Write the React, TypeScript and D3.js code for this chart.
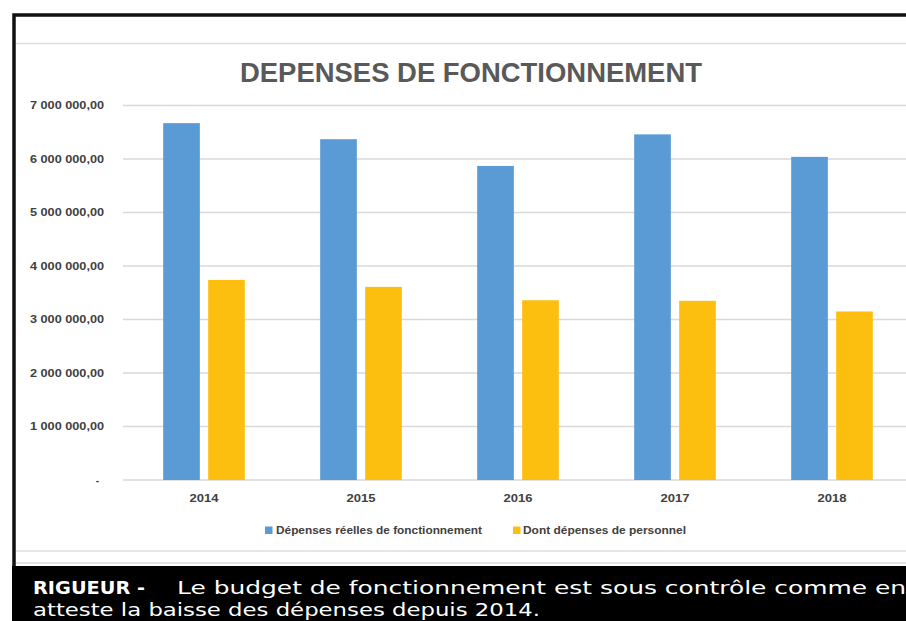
import React, { useEffect, useRef } from 'react';
import * as d3 from 'd3';

const years = ['2014', '2015', '2016', '2017', '2018'];
const seriesNames = ['Dépenses réelles de fonctionnement', 'Dont dépenses de personnel'];
const depensesReelles = [6670000, 6370000, 5870000, 6460000, 6040000];
const depensesPersonnel = [3740000, 3610000, 3360000, 3350000, 3150000];
const yTicks = [0, 1000000, 2000000, 3000000, 4000000, 5000000, 6000000, 7000000];
const colors = ['#5b9bd5', '#fdbf0f'];

const W = 906;
const H = 621;

function App() {
    const ref = useRef<SVGSVGElement>(null);

    useEffect(() => {
        const svg = d3.select(ref.current);
        svg.selectAll('*').remove();

        const locale = d3.formatLocale({ decimal: ',', thousands: ' ', grouping: [3], currency: ['', ''] });
        const fmt = locale.format(',.2f');

        // frame
        svg.append('rect').attr('width', W).attr('height', H).attr('fill', '#fff');
        svg.append('line').attr('x1', 16).attr('x2', W).attr('y1', 43.5).attr('y2', 43.5)
            .attr('stroke', '#dcdcdc').attr('stroke-width', 1.5);
        svg.append('line').attr('x1', 16).attr('x2', W).attr('y1', 551).attr('y2', 551)
            .attr('stroke', '#dcdcdc').attr('stroke-width', 1.5);
        svg.append('line').attr('x1', 16).attr('x2', W).attr('y1', 563).attr('y2', 563)
            .attr('stroke', '#c8c8c8').attr('stroke-width', 1);

        svg.append('path')
            .attr('d', `M14,568 L14,15 L${W},15`)
            .attr('fill', 'none').attr('stroke', '#111').attr('stroke-width', 3.5);

        // title
        svg.append('text')
            .attr('x', 471).attr('y', 82)
            .attr('text-anchor', 'middle')
            .attr('font-family', 'Liberation Sans, Arial, sans-serif')
            .attr('font-weight', 'bold')
            .attr('font-size', 27)
            .attr('fill', '#595959')
            .attr('textLength', 462)
            .attr('lengthAdjust', 'spacingAndGlyphs')
            .text('DEPENSES DE FONCTIONNEMENT');

        const y = d3.scaleLinear().domain([0, 7000000]).range([480, 105.5]);
        const x0 = d3.scaleBand().domain(years).range([125.5, 910.5]).paddingInner(0.48).paddingOuter(0.24);
        const x1 = d3.scaleBand().domain(seriesNames).range([0, x0.bandwidth()]).paddingInner(0.185);

        // gridlines
        svg.append('g').selectAll('line')
            .data(yTicks)
            .enter().append('line')
            .attr('x1', 123).attr('x2', W)
            .attr('y1', d => y(d)).attr('y2', d => y(d))
            .attr('stroke', '#d9d9d9')
            .attr('stroke-width', 1.6);

        // y labels
        svg.append('g').selectAll('text')
            .data(yTicks)
            .enter().append('text')
            .attr('x', d => d === 0 ? 99 : 104)
            .attr('y', d => y(d) + 3.5)
            .attr('text-anchor', 'end')
            .attr('font-family', 'Liberation Sans, Arial, sans-serif')
            .attr('font-weight', 'bold')
            .attr('font-size', 10)
            .attr('fill', '#404040')
            .attr('textLength', d => d === 0 ? null : 74)
            .attr('lengthAdjust', 'spacingAndGlyphs')
            .text(d => d === 0 ? '-' : fmt(d));

        // bars
        const rows = years.map((yr, i) => ({ year: yr, values: [depensesReelles[i], depensesPersonnel[i]] }));
        const group = svg.append('g').selectAll('g')
            .data(rows)
            .enter().append('g')
            .attr('transform', d => `translate(${x0(d.year)},0)`);

        group.selectAll('rect')
            .data(d => d.values.map((v, k) => ({ key: seriesNames[k], value: v, k })))
            .enter().append('rect')
            .attr('x', d => x1(d.key)!)
            .attr('width', x1.bandwidth())
            .attr('y', d => y(d.value))
            .attr('height', d => y(0) - y(d.value))
            .attr('fill', d => colors[d.k]);

        // x labels
        svg.append('g').selectAll('text')
            .data(years)
            .enter().append('text')
            .attr('x', d => x0(d)! + x0.bandwidth() / 2)
            .attr('y', 502)
            .attr('text-anchor', 'middle')
            .attr('font-family', 'Liberation Sans, Arial, sans-serif')
            .attr('font-weight', 'bold')
            .attr('font-size', 11)
            .attr('fill', '#404040')
            .attr('textLength', 29)
            .attr('lengthAdjust', 'spacingAndGlyphs')
            .text(d => d);

        // legend
        const legendItems = [
            { name: seriesNames[0], sx: 265, tx: 276, tw: 206 },
            { name: seriesNames[1], sx: 513, tx: 523, tw: 163 },
        ];
        const lg = svg.append('g');
        legendItems.forEach((it, i) => {
            lg.append('rect').attr('x', it.sx).attr('y', 526.5).attr('width', 7.5).attr('height', 7.5).attr('fill', colors[i]);
            lg.append('text')
                .attr('x', it.tx).attr('y', 534)
                .attr('font-family', 'Liberation Sans, Arial, sans-serif')
                .attr('font-weight', 'bold')
                .attr('font-size', 10)
                .attr('fill', '#404040')
                .attr('textLength', it.tw)
                .attr('lengthAdjust', 'spacingAndGlyphs')
                .text(it.name);
        });

        // caption block
        svg.append('rect').attr('x', 12).attr('y', 566).attr('width', W - 12).attr('height', H - 566).attr('fill', '#000');
        const cap = svg.append('g')
            .attr('font-family', 'DejaVu Sans, sans-serif')
            .attr('font-size', 18)
            .attr('fill', '#fff');
        cap.append('text').attr('x', 33).attr('y', 594).attr('font-weight', 'bold')
            .attr('textLength', 112).attr('lengthAdjust', 'spacingAndGlyphs').text('RIGUEUR -');
        cap.append('text').attr('x', 177).attr('y', 594)
            .attr('textLength', 729).attr('lengthAdjust', 'spacingAndGlyphs')
            .text('Le budget de fonctionnement est sous contrôle comme en');
        cap.append('text').attr('x', 33).attr('y', 616)
            .attr('textLength', 507).attr('lengthAdjust', 'spacingAndGlyphs')
            .text('atteste la baisse des dépenses depuis 2014.');
    }, []);

    return (
        <svg ref={ref} width={W} height={H}
            style={{ position: 'absolute', left: 0, top: 0, display: 'block' }}></svg>
    );
}

export default App;
